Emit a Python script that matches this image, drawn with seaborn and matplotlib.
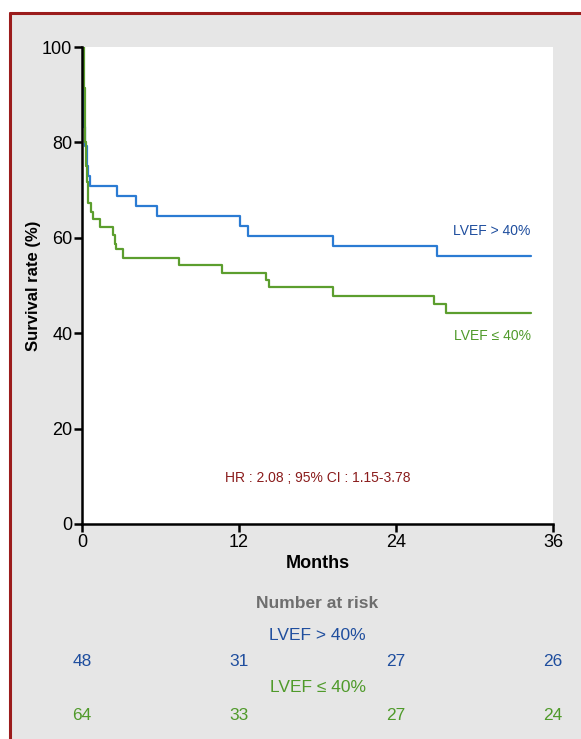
import matplotlib
matplotlib.use('Agg')
import matplotlib.pyplot as plt
import matplotlib.transforms as mtransforms
from matplotlib.patches import Rectangle
from matplotlib.lines import Line2D
import seaborn as sns
import pandas as pd

# Kaplan-Meier steps (months, survival %)
months_hi = [0, 0.05, 0.23, 0.36, 0.48, 0.61, 2.65, 4.1, 5.75, 12.1, 12.7, 19.2, 27.1, 34.3]
surv_hi = [100, 83.3, 79.2, 75.0, 72.9, 70.8, 68.8, 66.7, 64.6, 62.5, 60.4, 58.3, 56.2, 56.2]

months_lo = [0, 0.12, 0.2, 0.3, 0.36, 0.48, 0.67, 0.86, 1.38, 2.37, 2.5, 2.57, 3.16,
             7.45, 10.7, 14.1, 14.3, 19.2, 26.9, 27.8, 34.3]
surv_lo = [100, 91.5, 80.0, 75.0, 71.8, 67.2, 65.5, 63.9, 62.2, 60.6, 58.8, 57.6, 55.8,
           54.3, 52.7, 51.2, 49.6, 47.9, 46.1, 44.3, 44.3]

risk_months = [0, 12, 24, 36]
risk_hi = [48, 31, 27, 26]
risk_lo = [64, 33, 27, 24]

label_hi = 'LVEF > 40%'
label_lo = 'LVEF \u2264 40%'
hr_text = 'HR : 2.08 ; 95% CI : 1.15-3.78'

BLUE_LINE = '#2b7bd3'
BLUE_TEXT = '#1f4e9e'
GREEN_LINE = '#5c9e2e'
GREEN_TEXT = '#4f9a2a'
DARK_RED = '#8a1c1c'
BG = '#e6e6e6'

sns.set_style('white')
plt.rcParams['font.family'] = ['Liberation Sans', 'DejaVu Sans']
plt.rcParams['text.color'] = 'black'
plt.rcParams['axes.labelcolor'] = 'black'
plt.rcParams['xtick.color'] = 'black'
plt.rcParams['ytick.color'] = 'black'

df_hi = pd.DataFrame({'month': months_hi, 'surv': surv_hi})
df_lo = pd.DataFrame({'month': months_lo, 'surv': surv_lo})

fig = plt.figure(figsize=(5.81, 7.39), dpi=100, facecolor='white')

# grey panel with the dark red frame on left/top
fig.patches.append(Rectangle((10 / 581, 0), 1, 1 - 13 / 739, transform=fig.transFigure,
                             facecolor=BG, edgecolor='none', zorder=-5))
fig.lines.append(Line2D([10 / 581, 10 / 581], [0, 1 - 13 / 739], transform=fig.transFigure,
                        color='#9b1c1c', lw=2.2))
fig.lines.append(Line2D([10 / 581, 1], [1 - 13 / 739, 1 - 13 / 739], transform=fig.transFigure,
                        color='#9b1c1c', lw=2.2))

ax = fig.add_axes([82 / 581, 1 - 524 / 739, (553 - 82) / 581, (524 - 47) / 739])
ax.set_facecolor('white')

sns.lineplot(data=df_hi, x='month', y='surv', ax=ax, color=BLUE_LINE, lw=1.6,
             drawstyle='steps-post', estimator=None)
sns.lineplot(data=df_lo, x='month', y='surv', ax=ax, color=GREEN_LINE, lw=1.6,
             drawstyle='steps-post', estimator=None)

ax.set_xlim(0, 36)
ax.set_ylim(0, 100)
ax.set_xticks(risk_months)
ax.set_yticks([0, 20, 40, 60, 80, 100])
ax.tick_params(axis='both', direction='out', length=6, width=1.8, labelsize=13,
               color='black', pad=1, left=True, bottom=True)
for side in ['top', 'right']:
    ax.spines[side].set_visible(False)
for side in ['left', 'bottom']:
    ax.spines[side].set_color('black')
    ax.spines[side].set_linewidth(1.8)

ax.set_xlabel('Months', fontsize=13, fontweight='bold', labelpad=3)
ax.set_ylabel('Survival rate (%)', fontsize=12, fontweight='bold', labelpad=1)

ax.text(34.3, 61.5, label_hi, color=BLUE_TEXT, fontsize=10, ha='right', va='center')
ax.text(34.3, 39.5, label_lo, color=GREEN_TEXT, fontsize=10, ha='right', va='center')
ax.text(18, 9.6, hr_text, color=DARK_RED, fontsize=10, ha='center', va='center')

# number at risk table
trans = mtransforms.blended_transform_factory(ax.transData, fig.transFigure)
ax.text(18, 1 - 603 / 739, 'Number at risk', transform=trans, ha='center', va='center',
        fontsize=12.5, fontweight='bold', color='#6e6e6e')
ax.text(18, 1 - 635 / 739, label_hi, transform=trans, ha='center', va='center',
        fontsize=12.5, color=BLUE_TEXT)
ax.text(18, 1 - 687 / 739, label_lo, transform=trans, ha='center', va='center',
        fontsize=12.5, color=GREEN_TEXT)
for m, n_hi, n_lo in zip(risk_months, risk_hi, risk_lo):
    ax.text(m, 1 - 662 / 739, str(n_hi), transform=trans, ha='center', va='center',
            fontsize=12.5, color=BLUE_TEXT)
    ax.text(m, 1 - 715 / 739, str(n_lo), transform=trans, ha='center', va='center',
            fontsize=12.5, color=GREEN_TEXT)

fig.savefig('out.png', dpi=100, facecolor=fig.get_facecolor())
